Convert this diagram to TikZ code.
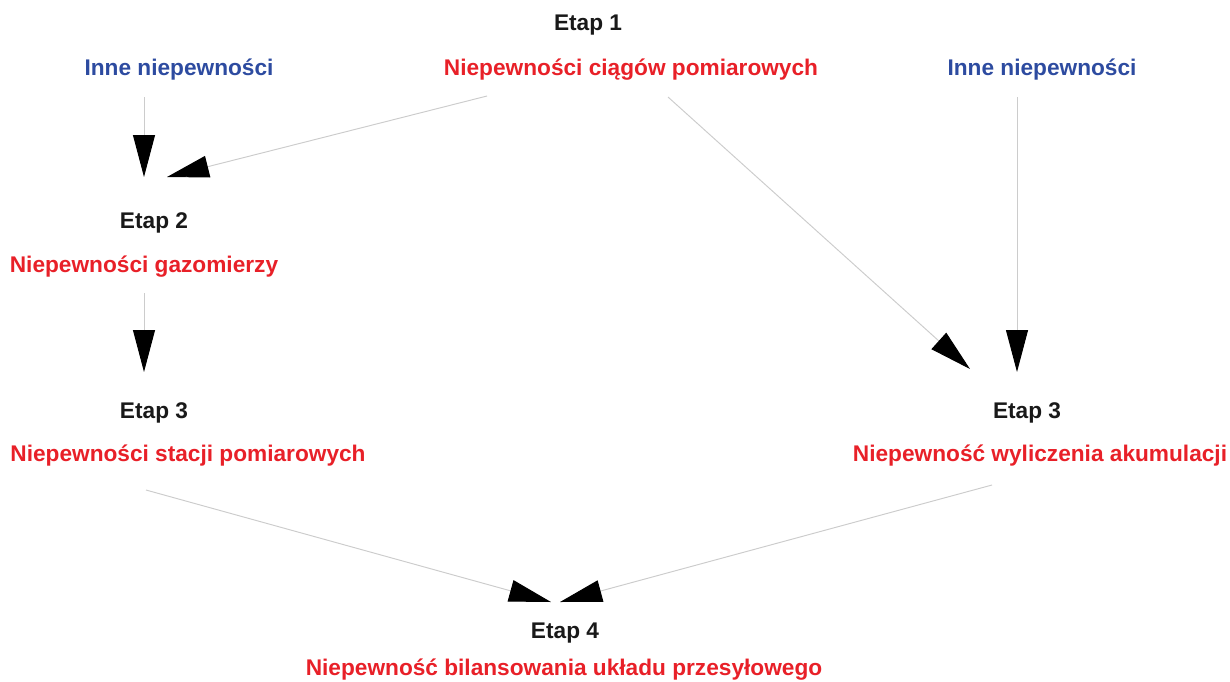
\documentclass[tikz,border=0pt]{standalone}
\usepackage{fontspec}
\setmainfont{Liberation Sans}
\usepackage{tikz}
\usetikzlibrary{arrows.meta,calc}

\definecolor{etapred}{RGB}{232,32,40}
\definecolor{etapblue}{RGB}{45,75,160}
\definecolor{etapblack}{RGB}{25,25,25}

\begin{document}
\begin{tikzpicture}[x=0.02cm, y=-0.02cm,
    every node/.append style={inner sep=0pt, anchor=base,
      font=\fontsize{12.9}{15}\selectfont\bfseries},
    etap/.style={text=etapblack},
    niep/.style={text=etapred},
    inne/.style={text=etapblue},
    arr/.style={draw=gray!40, line width=0.55pt,
      -{Triangle[length=0.84cm, width=0.44cm, color=black]}}]
   \useasboundingbox (0,0) rectangle (1230,681);

   \node [etap] (E1) at (588,30)  {Etap 1};
   \node [niep] (N1) at (631,75)  {Niepewności ciągów pomiarowych};
   \node [inne] (IL) at (179,75)  {Inne niepewności};
   \node [inne] (IR) at (1042,75) {Inne niepewności};
   \node [etap] (E2) at (154,228) {Etap 2};
   \node [niep] (N2) at (144,272) {Niepewności gazomierzy};
   \node [etap] (E3) at (154,418) {Etap 3};
   \node [niep] (N3) at (188,461) {Niepewności stacji pomiarowych};
   \node [etap] (E5) at (1027,418) {Etap 3};
   \node [niep] (N5) at (1040,461) {Niepewność wyliczenia akumulacji};
   \node [etap] (E4) at (565,638) {Etap 4};
   \node [niep] (N4) at (564,675) {Niepewność bilansowania układu przesyłowego};

   \draw [arr] ($(IL.base)+(-35,22)$)  -- ($(E2.base)+(-10,-51)$);
   \draw [arr] ($(N1.base)+(-144,21)$) -- ($(E2.base)+(13,-51)$);
   \draw [arr] ($(N1.base)+(37,22)$)   -- ($(E5.base)+(-57,-49)$);
   \draw [arr] ($(IR.base)+(-25,22)$)  -- ($(E5.base)+(-10,-46)$);
   \draw [arr] ($(N2.base)+(0,21)$)    -- ($(E3.base)+(-10,-46)$);
   \draw [arr] ($(N3.base)+(-42,29)$)  -- ($(E4.base)+(-14,-36)$);
   \draw [arr] ($(N5.base)+(-48,24)$)  -- ($(E4.base)+(-5,-36)$);
\end{tikzpicture}
\end{document}
